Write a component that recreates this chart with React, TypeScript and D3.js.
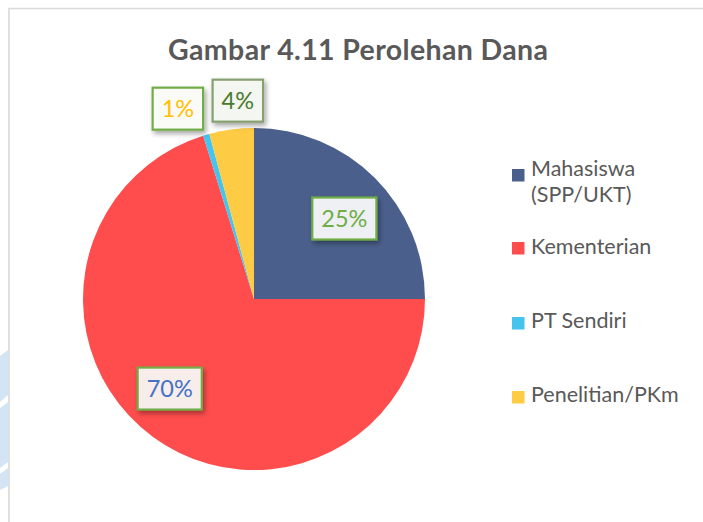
import React, { useEffect, useRef } from "react";
import * as d3 from "d3";

const title = "Gambar 4.11 Perolehan Dana";
const categories = ["Mahasiswa (SPP/UKT)", "Kementerian", "PT Sendiri", "Penelitian/PKm"];
const legendLines = [["Mahasiswa", "(SPP/UKT)"], ["Kementerian"], ["PT Sendiri"], ["Penelitian/PKm"]];
const values = [25.0, 70.2, 0.6, 4.2];
const labels = ["25%", "70%", "1%", "4%"];
const colors = ["#4A5F8B", "#FF4D4D", "#45C4EE", "#FECB45"];
const labelText = ["#70AD47", "#4472C4", "#FFC000", "#4A7A2C"];
const labelFill = ["#EEF0F3", "#F7EEEC", "#FAFAF6", "#F4F6F1"];
const labelStroke = ["#70AD47", "#70AD47", "#70AD47", "#86A070"];
// label placement in polar layout: [angle shift from slice mid (deg), radius]
const labelPolar = [[3.3, 121], [6.9, 123], [-5.6, 205], [2.9, 199]];

const W = 703, H = 522;
const cx = 254, cy = 299, R = 171;

export default function App() {
  const ref = useRef<SVGSVGElement>(null);
  useEffect(() => {
    const svg = d3.select(ref.current);
    svg.selectAll("*").remove();
    const defs = svg.append("defs");
    const f = defs.append("filter").attr("id", "sh").attr("x", "-30%").attr("y", "-30%").attr("width", "160%").attr("height", "170%");
    f.append("feDropShadow").attr("dx", 2).attr("dy", 3).attr("stdDeviation", 2.5).attr("flood-color", "#000").attr("flood-opacity", 0.35);

    svg.append("rect").attr("width", W).attr("height", H).attr("fill", "#fff");
    // watermark scraps at left edge
    const wm = svg.append("g").attr("fill", "#D3E4F4");
    wm.append("path").attr("d", "M0,356 L8,350 L8,395 L0,402 Z");
    wm.append("path").attr("d", "M0,408 L8,402 L8,462 L0,468 Z");
    wm.append("path").attr("d", "M0,474 L8,468 L8,486 L0,490 Z");
    // frame
    svg.append("path").attr("d", `M9,${H} L9,8.5 L${W},8.5`).attr("fill", "none").attr("stroke", "#D9D9D9").attr("stroke-width", 1.6);

    svg.append("text").attr("x", 168).attr("y", 59.5)
      .attr("font-family", "Lato, sans-serif").attr("font-weight", 700).attr("font-size", 28.5)
      .attr("textLength", 380).attr("lengthAdjust", "spacing")
      .attr("fill", "#595959").text(title);

    const pie = d3.pie<number>().sort(null).value((d) => d);
    const arcs = pie(values);
    const arc = d3.arc<d3.PieArcDatum<number>>().innerRadius(0).outerRadius(R);
    const g = svg.append("g").attr("transform", `translate(${cx},${cy})`);
    g.selectAll("path.slice").data(arcs).enter().append("path").attr("class", "slice")
      .attr("d", arc as any).attr("fill", (_d, i) => colors[i]);

    arcs.forEach((a, i) => {
      const mid = (a.startAngle + a.endAngle) / 2 + (labelPolar[i][0] * Math.PI) / 180;
      const r = labelPolar[i][1];
      const x = Math.sin(mid) * r, y = -Math.cos(mid) * r;
      const lg = g.append("g").attr("transform", `translate(${x},${y})`);
      const box = lg.append("rect").attr("fill", labelFill[i]).attr("stroke", labelStroke[i]).attr("stroke-width", 2.2).attr("filter", "url(#sh)");
      const t = lg.append("text").attr("text-anchor", "middle").attr("y", 8.5)
        .attr("font-family", "Lato, sans-serif").attr("font-size", 23.5).attr("fill", labelText[i]).text(labels[i]);
      const tw = (t.node() as SVGTextElement).getComputedTextLength();
      const bw = tw + 18, bh = 42;
      box.attr("x", -bw / 2).attr("y", -bh / 2).attr("width", bw).attr("height", bh);
    });

    const markerY = [169, 242, 317, 391];
    const baseY = [176, 254, 328, 401.5];
    const lg = svg.append("g");
    categories.forEach((c, i) => {
      lg.append("rect").attr("x", 512).attr("y", markerY[i]).attr("width", 12.5).attr("height", 12.5).attr("fill", colors[i]);
      const t = lg.append("text").attr("x", 531).attr("y", baseY[i])
        .attr("font-family", "Lato, sans-serif").attr("font-size", 21.5).attr("fill", "#595959");
      legendLines[i].forEach((ln, j) => {
        t.append("tspan").attr("x", 531).attr("dy", j === 0 ? 0 : 25.7).text(ln);
      });
    });
  }, []);
  return (
    <svg ref={ref} width={W} height={H} style={{ position: "fixed", left: 0, top: 0, display: "block" }} />
  );
}
